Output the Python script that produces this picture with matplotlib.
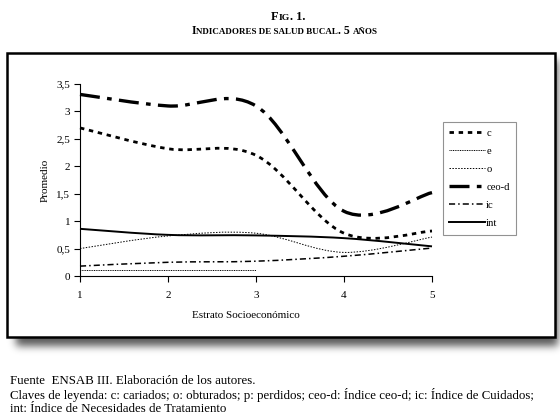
import numpy as np
import matplotlib
matplotlib.use("Agg")
import matplotlib.pyplot as plt
from matplotlib.path import Path
from matplotlib.patches import PathPatch, Rectangle
from matplotlib.lines import Line2D

# Datos (promedio por estrato)
estratos = [1, 2, 3, 4, 5]
c_vals = [2.70, 2.32, 2.20, 0.78, 0.82]
e_vals = [0.10, 0.10, 0.10]          # solo hasta estrato 3
o_vals = [0.50, 0.73, 0.78, 0.43, 0.71]
ceod_vals = [3.31, 3.10, 3.10, 1.18, 1.52]
ic_vals = [0.18, 0.25, 0.27, 0.36, 0.51]
int_vals = [0.86, 0.75, 0.74, 0.69, 0.54]

y_ticks = [0, 0.5, 1, 1.5, 2, 2.5, 3, 3.5]
y_labels = ["0", "0,5", "1", "1,5", "2", "2,5", "3", "3,5"]

SERIF = "Liberation Serif"
W, H = 560, 420


def smooth_path(xs, ys):
    # curva suavizada tipo Excel (bezier a partir de los puntos)
    pts = np.column_stack([xs, ys]).astype(float)
    n = len(pts)
    verts = [pts[0]]
    codes = [Path.MOVETO]
    for i in range(n - 1):
        p0 = pts[max(i - 1, 0)]
        p1 = pts[i]
        p2 = pts[i + 1]
        p3 = pts[min(i + 2, n - 1)]
        verts += [p1 + (p2 - p0) / 6, p2 - (p3 - p1) / 6, p2]
        codes += [Path.CURVE4] * 3
    return Path(verts, codes)


def smallcaps(fig, xc, ytop, text, big, small):
    # versalitas a mano: minusculas en mayuscula mas pequena
    runs = []
    for ch in text:
        if ch == " " and runs:
            sz = runs[-1][1]
        else:
            sz = small if ch.islower() else big
        if runs and runs[-1][1] == sz:
            runs[-1][0] += ch.upper()
        else:
            runs.append([ch.upper(), sz])
    r = fig.canvas.get_renderer()

    def width(s, sz):
        t1 = fig.text(0, 0, "X" + s + "X", fontsize=sz, family=SERIF, weight="bold")
        t2 = fig.text(0, 0, "XX", fontsize=sz, family=SERIF, weight="bold")
        w = t1.get_window_extent(r).width - t2.get_window_extent(r).width
        t1.remove()
        t2.remove()
        return w

    ws = [width(s, sz) for s, sz in runs]
    x = xc - sum(ws) / 2
    for (s, sz), w in zip(runs, ws):
        fig.text(x / W, 1 - ytop / H, s, fontsize=sz, family=SERIF, weight="bold",
                 ha="left", va="baseline")
        x += w


fig = plt.figure(figsize=(5.6, 4.2), dpi=100)

# sombra del recuadro
yy, xx = np.mgrid[0:H, 0:W]
mask = ((xx >= 16) & (xx <= 557) & (yy >= 60) & (yy <= 345)).astype(float)
k = np.exp(-0.5 * (np.arange(-12, 13) / 4.0) ** 2)
k /= k.sum()
mask = np.apply_along_axis(lambda v: np.convolve(v, k, mode="same"), 0, mask)
mask = np.apply_along_axis(lambda v: np.convolve(v, k, mode="same"), 1, mask)
shadow = np.zeros((H, W, 4))
shadow[..., 3] = mask * 0.65
fig.figimage(shadow, 0, 0, origin="upper", zorder=-3)

# recuadro
fig.add_artist(Rectangle((7 / W, 1 - 337 / H), (555 - 7) / W, (337 - 53) / H,
                         transform=fig.transFigure, facecolor="white",
                         edgecolor="black", lw=1.8, zorder=-2))

ax = fig.add_axes([80 / W, 1 - 276 / H, 352 / W, 192 / H])
ax.set_facecolor("none")

styles = {
    "c": dict(lw=2.0, ls=(0, (1.6, 1.7))),
    "e": dict(lw=0.7, ls=(0, (1, 0.8))),
    "o": dict(lw=0.7, ls=(0, (1.5, 1.5))),
    "ceo-d": dict(lw=2.4, ls=(0, (6, 2.2, 1.4, 2.2))),
    "ic": dict(lw=1.1, ls=(0, (4, 2, 1, 2))),
    "int": dict(lw=1.4, ls="solid"),
}
series = [
    ("c", estratos, c_vals),
    ("e", estratos[:len(e_vals)], e_vals),
    ("o", estratos, o_vals),
    ("ceo-d", estratos, ceod_vals),
    ("ic", estratos, ic_vals),
    ("int", estratos, int_vals),
]

handles = []
for name, xs, ys in series:
    st = styles[name]
    patch = PathPatch(smooth_path(xs, ys), fill=False, edgecolor="black",
                      lw=st["lw"], linestyle=st["ls"], clip_on=False)
    ax.add_patch(patch)
    handles.append(Line2D([], [], color="black", lw=st["lw"], linestyle=st["ls"],
                          label=name))

ax.set_xlim(1, 5)
ax.set_ylim(0, 3.5)
ax.set_xticks(estratos)
ax.set_xticklabels([str(v) for v in estratos], family=SERIF, fontsize=8)
ax.set_yticks(y_ticks)
ax.set_yticklabels(y_labels, family=SERIF, fontsize=8)
ax.tick_params(axis="both", direction="out", length=4, width=0.8, color="black")
ax.tick_params(axis="x", pad=7)
ax.tick_params(axis="y", pad=3)
for s in ["top", "right"]:
    ax.spines[s].set_visible(False)
for s in ["left", "bottom"]:
    ax.spines[s].set_linewidth(0.8)

fig.text(246 / W, 1 - 316 / H, "Estrato Socioeconómico", family=SERIF,
         fontsize=8, ha="center", va="center")
fig.text(45 / W, 1 - 180 / H, "Promedio", family=SERIF, fontsize=8,
         rotation=90, ha="center", va="center")

leg = fig.legend(handles=handles, loc="upper left",
                 bbox_to_anchor=(443 / W, 1 - 122 / H), borderaxespad=0,
                 frameon=True, fancybox=False, edgecolor="#777777",
                 prop={"family": SERIF, "size": 7.7}, handlelength=3.3,
                 handletextpad=0.15, labelspacing=0.8, borderpad=0.6)
leg.get_frame().set_linewidth(0.8)

# titulo
smallcaps(fig, 288, 19.5, "Fig. 1.", 9, 6.8)
smallcaps(fig, 285, 34.5, "Indicadores de salud bucal. 5 años", 8.5, 6.5)

# notas al pie
notas = [
    "Fuente  ENSAB III. Elaboración de los autores.",
    "Claves de leyenda: c: cariados; o: obturados; p: perdidos; ceo-d: Índice ceo-d; "
    "ic: Índice de Cuidados;",
    "int: Índice de Necesidades de Tratamiento",
]
for i, t in enumerate(notas):
    fig.text(10 / W, 1 - (381.5 + 13.8 * i) / H, t, family=SERIF, fontsize=9.3,
             ha="left", va="center")

fig.savefig("out.png", dpi=100)
